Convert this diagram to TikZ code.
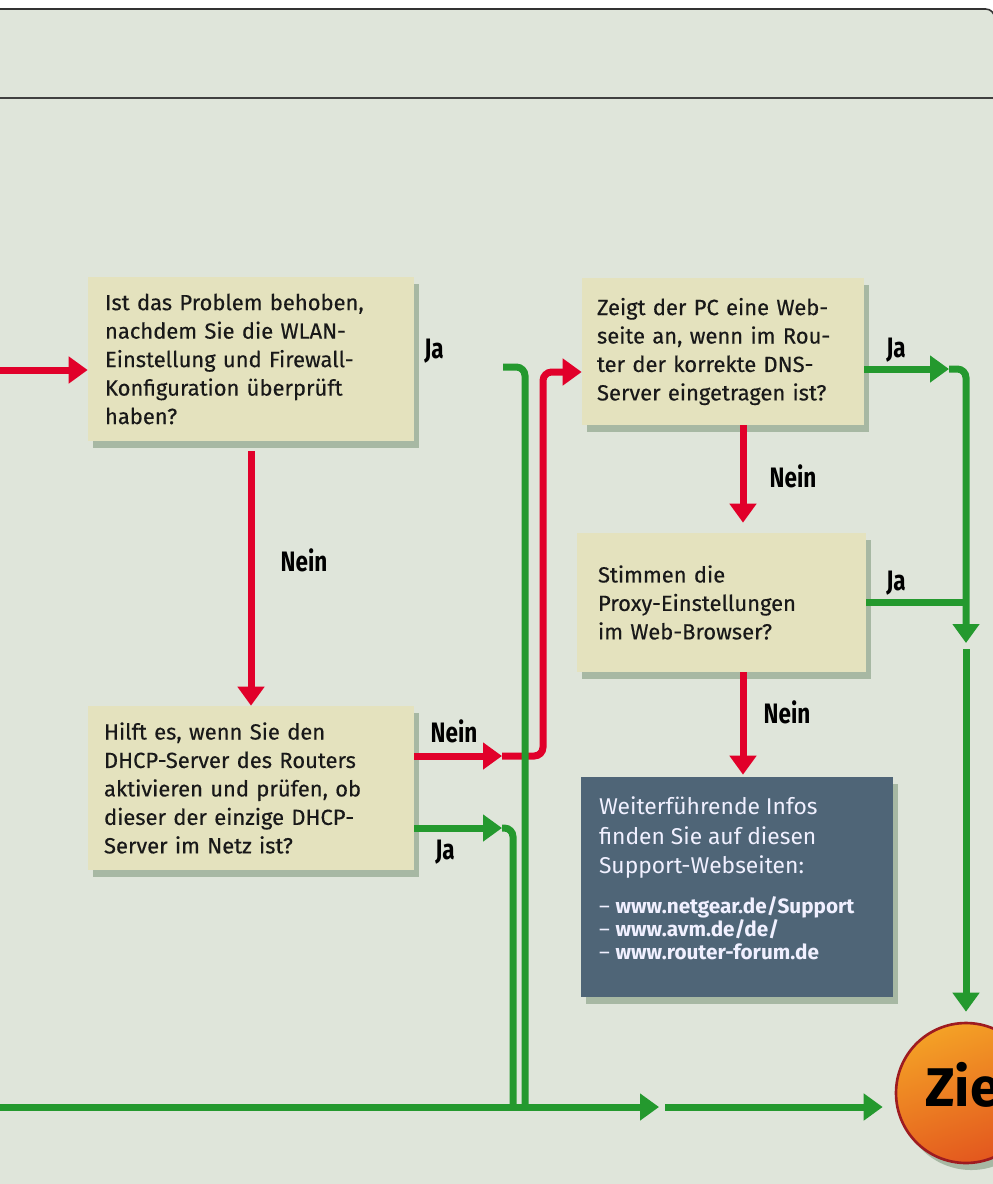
\documentclass[tikz,border=0pt]{standalone}
\usepackage{fontspec}
\setmainfont{Fira Sans}
\newfontfamily\boxfont{Fira Sans}[FakeBold=0.35]
\newfontfamily\labelfont{Fira Sans}[FakeStretch=0.8]
\usetikzlibrary{arrows.meta,shadows}

\definecolor{panel}{HTML}{DFE5DA}
\definecolor{boxfill}{HTML}{E4E2BE}
\definecolor{infofill}{HTML}{4F6577}
\definecolor{neinred}{HTML}{E1002A}
\definecolor{jagreen}{HTML}{24992E}
\definecolor{zieltop}{HTML}{F4A126}
\definecolor{zielbot}{HTML}{E3571E}
\definecolor{zielrim}{HTML}{9E1B20}

\begin{document}
\begin{tikzpicture}[x=0.02cm,y=-0.02cm,
  boxshadow/.style={drop shadow={shadow xshift=3pt,shadow yshift=-4pt,opacity=.25,fill=black!80!green}},
  question/.style={fill=boxfill,boxshadow,align=left,inner ysep=0pt,text=black!90,
    font=\boxfont\fontsize{12.5}{16.2}\selectfont},
  answer/.style={font=\labelfont\bfseries\fontsize{16}{18}\selectfont},
  line/.style={line width=0.14cm,rounded corners=5pt},
  tip/.style={-{Triangle[length=0.38cm,width=0.52cm]}},
  nein/.style={line,draw=neinred,tip},
  neinline/.style={line,draw=neinred},
  ja/.style={line,draw=jagreen,tip},
  jaline/.style={line,draw=jagreen}]

\useasboundingbox (0,0) rectangle (993,1184);
\fill[white] (0,0) rectangle (993,1184);
\filldraw[fill=panel,draw=black!80,line width=0.9pt,rounded corners=5pt]
  (-20,9) -- (994.5,9) -- (994.5,1220) -- (-20,1220) -- cycle;
\draw[black!75,line width=0.9pt] (0,98) -- (993,98);

\node[question,text width=5.84cm,inner xsep=0.34cm,minimum height=3.28cm] (box1) at (251,359)
  {Ist das Problem behoben,\\nachdem Sie die WLAN-\\Einstellung und Firewall-\\Konfiguration überprüft\\haben?};
\node[question,text width=5.04cm,inner xsep=0.30cm,minimum height=2.94cm] (box2) at (723,351.5)
  {Zeigt der PC eine Web-\\seite an, wenn im Rou-\\ter der korrekte DNS-\\Server eingetragen ist?};
\node[question,text width=4.94cm,inner xsep=0.42cm,minimum height=2.78cm] (box3) at (721.5,602.5)
  {Stimmen die\\Proxy-Einstellungen\\im Web-Browser?};
\node[question,text width=5.88cm,inner xsep=0.32cm,minimum height=3.28cm] (box4) at (251,788)
  {Hilft es, wenn Sie den\\DHCP-Server des Routers\\aktivieren und prüfen, ob\\dieser der einzige DHCP-\\Server im Netz ist?};
\node[fill=infofill,boxshadow,text width=5.52cm,inner xsep=0.36cm,inner ysep=0pt,
  minimum height=4.4cm,align=left,text=white!94!blue] (info) at (737,887)
  {\fontsize{13}{17}\selectfont Weiterführende Infos\\finden Sie auf diesen\\Support-Webseiten:\par
   \vspace{9pt}\fontsize{11.8}{13.3}\selectfont
   – \textbf{www.netgear.de/Support}\\– \textbf{www.avm.de/de/}\\– \textbf{www.router-forum.de}\par
   \vspace{10pt}};
\node[circle,minimum size=2.8cm,top color=zieltop,bottom color=zielbot,shading angle=20,
  draw=zielrim,line width=1.5pt,boxshadow] (ziel) at (966,1093) {};
\node[anchor=base west,inner sep=0pt,font=\bfseries\fontsize{31}{31}\selectfont] (zielname) at (925,1106) {Ziel};

\node[answer] (ja1) at (434,351) {Ja};
\node[answer] (nein1) at (304,560) {Nein};
\node[answer] (nein4) at (454,731) {Nein};
\node[answer] (ja4) at (445,852) {Ja};
\node[answer] (ja2) at (896,350) {Ja};
\node[answer] (nein2) at (793,476) {Nein};
\node[answer] (ja3) at (896,583) {Ja};
\node[answer] (nein3) at (787,712) {Nein};

\coordinate (inL) at (0,370);
\coordinate (outL) at (0,1107);
\coordinate (ja1start) at (503,367);
\coordinate (nein4tip) at (502,756);
\coordinate (ja4tip) at (502,828);
\coordinate (ja2tip) at (949,369);
\coordinate (rtip) at (966,643);
\coordinate (midtip) at (659,1107);
\coordinate (ncol) at (743,0);
\coordinate (busA) at (513,1107);
\coordinate (busB) at (525,1107);

\draw[nein] (inL) -- (inL -| box1.west);
\draw[nein,shorten <=0.2cm] (box1) -- (box4);
\draw[nein] (box4.east |- nein4tip) -- (nein4tip);
\draw[nein] (nein4tip) -- ++(41,0) |- (box2.west |- 0,372);
\draw[nein,shorten >=0.2cm] (box2.south -| ncol) -- (box3.north -| ncol);
\draw[nein,shorten >=0.04cm] (box3.south -| ncol) -- (info.north -| ncol);

\draw[jaline] (ja1start) -| (busB);
\draw[ja] (box4.east |- ja4tip) -- (ja4tip);
\draw[jaline] (ja4tip) -| (busA);
\draw[ja] (outL) -- (midtip);
\draw[ja,shorten >=0.24cm] (midtip) ++(6,0) -- (ziel.west |- midtip);
\draw[ja] (box2.east |- ja2tip) -- (ja2tip);
\draw[ja] (ja2tip) -| (rtip);
\draw[jaline] (box3.east) -- (box3.east -| rtip);
\draw[ja,shorten >=0.2cm] (rtip) ++(0,6) -- (ziel.north);
\end{tikzpicture}
\end{document}
